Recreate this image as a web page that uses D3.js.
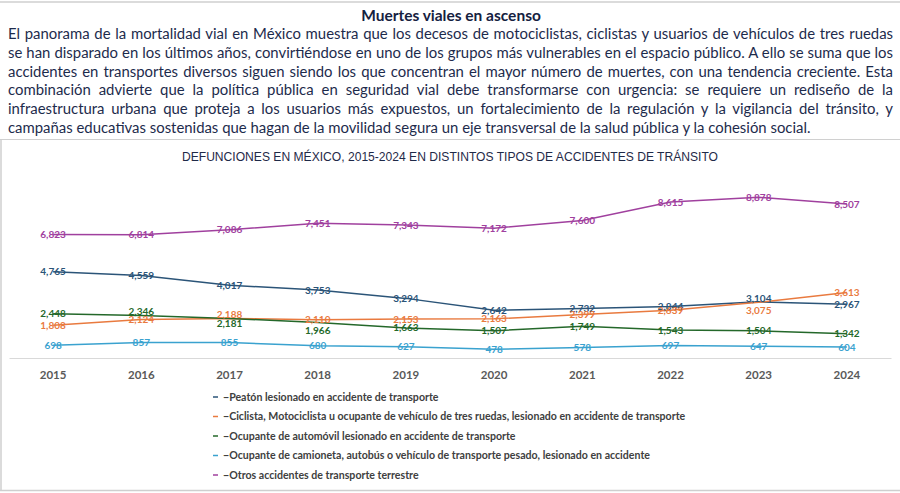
<!DOCTYPE html>
<html lang="es">
<head>
<meta charset="utf-8">
<style>
  body { margin: 0; background: #fff; }
  svg text { font-family: Lato, "Open Sans", sans-serif; }
</style>
<script src="https://d3js.org/d3.v7.min.js"></script>
</head>
<body>
<svg width="900" height="493"></svg>
<script>
// ---- datos ----
var years = ["2015","2016","2017","2018","2019","2020","2021","2022","2023","2024"];
var peaton    = [4765, 4559, 4017, 3753, 3294, 2642, 2732, 2844, 3104, 2967];
var ciclista  = [1808, 2124, 2188, 2110, 2153, 2163, 2399, 2639, 3075, 3613];
var automovil = [2448, 2346, 2181, 1966, 1663, 1507, 1749, 1543, 1504, 1342];
var camioneta = [698, 857, 855, 680, 627, 478, 578, 697, 647, 604];
var otros     = [6823, 6814, 7086, 7451, 7343, 7172, 7600, 8615, 8878, 8507];
var seriesNames = [
  "Peatón lesionado en accidente de transporte",
  "Ciclista, Motociclista u ocupante de vehículo de tres ruedas, lesionado en accidente de transporte",
  "Ocupante de automóvil lesionado en accidente de transporte",
  "Ocupante de camioneta, autobús o vehículo de transporte pesado, lesionado en accidente",
  "Otros accidentes de transporte terrestre"
];
var colors = ["#2b5478", "#e97a3f", "#24682a", "#3aa2cf", "#a0409e"];

var title = "Muertes viales en ascenso";
var paragraph = [
  "El panorama de la mortalidad vial en México muestra que los decesos de motociclistas, ciclistas y usuarios de vehículos de tres ruedas",
  "se han disparado en los últimos años, convirtiéndose en uno de los grupos más vulnerables en el espacio público. A ello se suma que los",
  "accidentes en transportes diversos siguen siendo los que concentran el mayor número de muertes, con una tendencia creciente. Esta",
  "combinación advierte que la política pública en seguridad vial debe transformarse con urgencia: se requiere un rediseño de la",
  "infraestructura urbana que proteja a los usuarios más expuestos, un fortalecimiento de la regulación y la vigilancia del tránsito, y",
  "campañas educativas sostenidas que hagan de la movilidad segura un eje transversal de la salud pública y la cohesión social."
];
var chartTitle = "DEFUNCIONES EN MÉXICO, 2015-2024 EN DISTINTOS TIPOS DE ACCIDENTES DE TRÁNSITO";

var allSeries = [peaton, ciclista, automovil, camioneta, otros];

// desplazamientos de etiquetas que se ven movidas en el original (serie-año)
var labelShift = { "1-2017": -4, "2-2016": -4, "2-2017": 5, "2-2018": 8, "1-2023": 8, "0-2023": -3 };

var svg = d3.select("svg");
var ink = "#1d2b4c";

// marcos
svg.append("line").attr("x1", 0).attr("x2", 900).attr("y1", 2).attr("y2", 2).attr("stroke", "#cfcfcf").attr("stroke-width", 1.5);
svg.append("line").attr("x1", 0).attr("x2", 900).attr("y1", 139.5).attr("y2", 139.5).attr("stroke", "#d0d0d0").attr("stroke-width", 1.2);
svg.append("line").attr("x1", 1).attr("x2", 1).attr("y1", 139).attr("y2", 491).attr("stroke", "#cfcfcf").attr("stroke-width", 1.5);
svg.append("line").attr("x1", 0).attr("x2", 900).attr("y1", 490.5).attr("y2", 490.5).attr("stroke", "#cfcfcf").attr("stroke-width", 1.5);

// titulo y texto
svg.append("text").attr("x", 451).attr("y", 21).attr("text-anchor", "middle")
  .attr("font-size", 15.5).attr("font-weight", 700).attr("fill", "#15213f").text(title);

var left = 8, right = 893;
paragraph.forEach(function(line, i) {
  var t = svg.append("text").attr("x", left).attr("y", 39 + i * 18.8)
    .attr("font-size", 14.9).attr("fill", ink).text(line);
  if (i < paragraph.length - 1) {
    var w = t.node().getComputedTextLength();
    var spaces = line.split(" ").length - 1;
    t.attr("word-spacing", (right - left - w) / spaces);
  }
});

svg.append("text").attr("x", 450).attr("y", 161).attr("text-anchor", "middle")
  .attr("font-size", 12.1).attr("fill", "#1f2a48")
  .style("font-family", "'Liberation Sans', Arial, sans-serif").text(chartTitle);

// escalas
var x = d3.scaleBand().domain(years).range([9, 891]);
var y = d3.scaleLinear().domain([0, 10000]).range([358, 177]);
var cx = function(yr) { return x(yr) + x.bandwidth() / 2; };

var xAxis = svg.append("g").attr("transform", "translate(0,358)")
  .call(d3.axisBottom(x).tickSize(0).tickPadding(13));
xAxis.select(".domain").attr("stroke", "#d9d9d9").attr("stroke-width", 1.2);
xAxis.selectAll("text").attr("font-size", 11.5).attr("font-weight", 700).attr("fill", "#595959")
  .style("font-family", "Lato, sans-serif");

var line = d3.line().x(function(d, i) { return cx(years[i]); }).y(function(d) { return y(d); });

allSeries.forEach(function(vals, s) {
  svg.append("path").datum(vals).attr("d", line).attr("fill", "none")
    .attr("stroke", colors[s]).attr("stroke-width", 1.5);
});

allSeries.forEach(function(vals, s) {
  svg.append("g").selectAll("text").data(vals).join("text")
    .attr("x", function(d, i) { return cx(years[i]); })
    .attr("y", function(d, i) { return y(d) + (labelShift[s + "-" + years[i]] || 0); })
    .attr("dy", "0.35em").attr("text-anchor", "middle")
    .attr("font-size", 10).attr("font-weight", 700).attr("fill", colors[s])
    .text(d3.format(","));
});

// leyenda
var leg = svg.append("g").selectAll("g").data(seriesNames).join("g")
  .attr("transform", function(d, i) { return "translate(213," + (397 + i * 19.5) + ")"; });
leg.append("line").attr("x1", 0).attr("x2", 5).attr("y1", 0).attr("y2", 0)
  .attr("stroke", function(d, i) { return colors[i]; }).attr("stroke-width", 1.5);
leg.append("text").attr("x", 10).attr("dy", "0.35em").attr("font-size", 10.6).attr("font-weight", 700)
  .attr("fill", "#404040").text(function(d) { return "\u2212" + d; });
</script>
</body>
</html>
